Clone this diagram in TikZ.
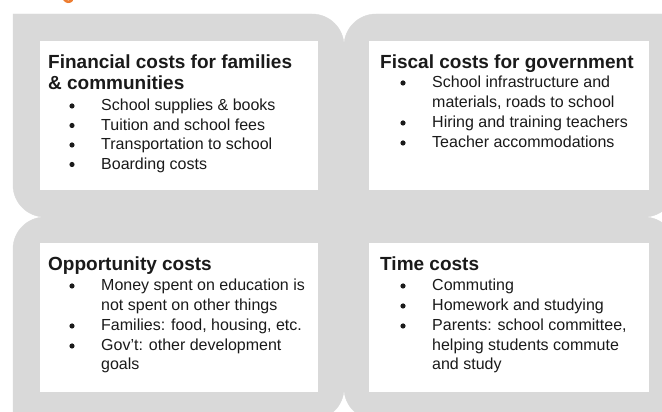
\documentclass[tikz,border=0pt]{standalone}
\usepackage{fontspec}
\setmainfont{Liberation Sans}
\definecolor{panelgray}{RGB}{217,217,217}
\definecolor{accent}{RGB}{237,125,49}
\definecolor{ink}{RGB}{26,26,26}
\begin{document}
\begin{tikzpicture}[x=1pt,y=1pt,
  quad/.style={fill=panelgray,draw=panelgray,line width=0.4pt},
  card/.style={fill=white},
  head/.style={anchor=base west,inner sep=0pt,text=ink,font=\fontsize{19}{22}\selectfont\bfseries},
  item/.style={anchor=base west,inner sep=0pt,text=ink,font=\fontsize{16}{20}\selectfont},
  dot/.style={circle,fill=ink,inner sep=0pt,minimum size=5.2pt}]
\useasboundingbox (0,0) rectangle (662,412);
\clip (0,0) rectangle (662,412);

% four quadrants, rounded where they meet at the outer edges
\path[quad] (13,398) -- (312,398) arc[start angle=90,end angle=0,radius=32pt]
  -- (344,195) -- (45,195) arc[start angle=270,end angle=180,radius=32pt] -- cycle;
\path[quad] (376,398) -- (676,398) -- (676,227) arc[start angle=0,end angle=-90,radius=32pt]
  -- (344,195) -- (344,366) arc[start angle=180,end angle=90,radius=32pt] -- cycle;
\path[quad] (13,163) arc[start angle=180,end angle=90,radius=32pt]
  -- (344,195) -- (344,24) arc[start angle=0,end angle=-90,radius=32pt] -- (13,-8) -- cycle;
\path[quad] (344,195) -- (644,195) arc[start angle=90,end angle=0,radius=32pt]
  -- (676,-8) -- (376,-8) arc[start angle=270,end angle=180,radius=32pt] -- cycle;

% white cards
\fill[card] (40,222) rectangle (318,371);
\fill[card] (369,222) rectangle (649,371);
\fill[card] (40,20) rectangle (318,169);
\fill[card] (369,20) rectangle (649,169);

% heading fragment above the matrix
\draw[accent,line width=2.6pt,line cap=round] (64,413) .. controls (66,409.5) and (70,409.5) .. (72,412);

% financial costs
\node[head] (fin1) at (48,343) {Financial costs for families};
\node[head] (fin2) at (48,322) {\& communities};
\node[dot] (fd1) at (72,306) {};
\node[item] (fi1) at (101,301) {School supplies \& books};
\node[dot] (fd2) at (72,286.5) {};
\node[item] (fi2) at (101,281.5) {Tuition and school fees};
\node[dot] (fd3) at (72,267) {};
\node[item] (fi3) at (101,262) {Transportation to school};
\node[dot] (fd4) at (72,247.5) {};
\node[item] (fi4) at (101,242.5) {Boarding costs};

% fiscal costs
\node[head] (fis) at (380,343) {Fiscal costs for government};
\node[dot] (gd1) at (403,329) {};
\node[item] (gi1) at (432,324) {School infrastructure and};
\node[item] (gi2) at (432,304) {materials, roads to school};
\node[dot] (gd2) at (403,289) {};
\node[item] (gi3) at (432,284) {Hiring and training teachers};
\node[dot] (gd3) at (403,269) {};
\node[item] (gi4) at (432,264) {Teacher accommodations};

% opportunity costs
\node[head] (opp) at (48,141) {Opportunity costs};
\node[dot] (od1) at (72,126) {};
\node[item] (oi1) at (101,121) {Money spent on education is};
\node[item] (oi2) at (101,101) {not spent on other things};
\node[dot] (od2) at (72,86) {};
\node[item] (oi3) at (101,81) {Families: food, housing, etc.};
\node[dot] (od3) at (72,66) {};
\node[item] (oi4) at (101,61) {Gov't: other development};
\node[item] (oi5) at (101,42) {goals};

% time costs
\node[head] (tim) at (380,141) {Time costs};
\node[dot] (td1) at (403,126) {};
\node[item] (ti1) at (432,121) {Commuting};
\node[dot] (td2) at (403,106) {};
\node[item] (ti2) at (432,101) {Homework and studying};
\node[dot] (td3) at (403,86) {};
\node[item] (ti3) at (432,81) {Parents: school committee,};
\node[item] (ti4) at (432,61) {helping students commute};
\node[item] (ti5) at (432,42) {and study};
\end{tikzpicture}
\end{document}
